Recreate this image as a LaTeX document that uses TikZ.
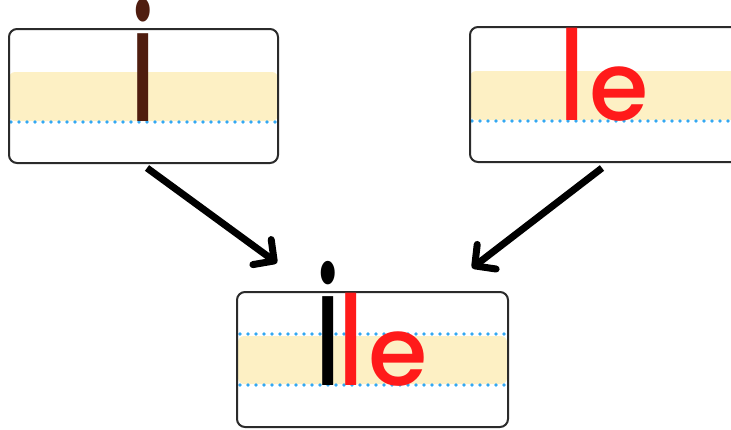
\documentclass[tikz,border=0pt]{standalone}
\usepackage{fontspec}
\newfontfamily\letterfont{Poppins Medium}
\usetikzlibrary{arrows.meta}
\definecolor{BoxEdge}{HTML}{2B2B2B}
\definecolor{BandYellow}{HTML}{FDF0C4}
\definecolor{LineBlue}{HTML}{33A8F2}
\definecolor{LetterBrown}{HTML}{4F1D0F}
\definecolor{LetterRed}{HTML}{FF1A1A}

\begin{document}
\begin{tikzpicture}[x=1pt, y=-1pt,
    wordbox/.style={rectangle, draw=BoxEdge, line width=2pt, rounded corners=8pt, minimum width=269pt, minimum height=134pt, inner sep=0pt},
    band/.style={fill=BandYellow, rounded corners=6pt},
    guide/.style={draw=LineBlue, line width=3.6pt, line cap=round, dash pattern=on 0pt off 8pt},
    letter/.style={inner sep=0pt, anchor=base, font=\letterfont\fontsize{96}{96}\selectfont},
    arrow/.style={-{Straight Barb[length=15pt, width=31pt, round]}, line width=7pt}
  ]
  \useasboundingbox (0,0) rectangle (731,429);

  % Bandes de l'interligne
  \fill[band] (9,72) rectangle (278,121);
  \fill[band] (470,71) rectangle (739,120);
  \fill[band] (238,336) rectangle (507,384);

  % Lignes pointillées
  \draw[guide] (11,122) -- (276,122);
  \draw[guide] (472,121) -- (737,121);
  \draw[guide] (240,334) -- (505,334);
  \draw[guide] (240,385) -- (505,385);

  % Cadres
  \node[wordbox] (boxI) at (143.5,96) {};
  \node[wordbox, minimum height=135pt] (boxLe) at (604.5,94.5) {};
  \node[wordbox, minimum width=271pt, minimum height=135pt] (boxIle) at (372.5,359.5) {};

  % Lettres
  \node[letter, text=LetterBrown, yscale=1.66] (iTop) at (143,121) {i};
  \node[letter, text=LetterRed, yscale=1.3] (lTop) at (572,120) {l};
  \node[letter, text=LetterRed] (eTop) at (619,120) {e};

  \node[letter, text=black, yscale=1.68] (iBot) at (328.5,385) {i};
  \node[letter, text=LetterRed, yscale=1.3] (lBot) at (351.5,385) {l};
  \node[letter, text=LetterRed] (eBot) at (398,385) {e};

  % Flèches
  \coordinate (fromI) at (147,168);
  \coordinate (toIleL) at (277,263);
  \coordinate (fromLe) at (602,168);
  \coordinate (toIleR) at (472,268);
  \draw[arrow] (fromI) -- (toIleL);
  \draw[arrow] (fromLe) -- (toIleR);
\end{tikzpicture}
\end{document}
